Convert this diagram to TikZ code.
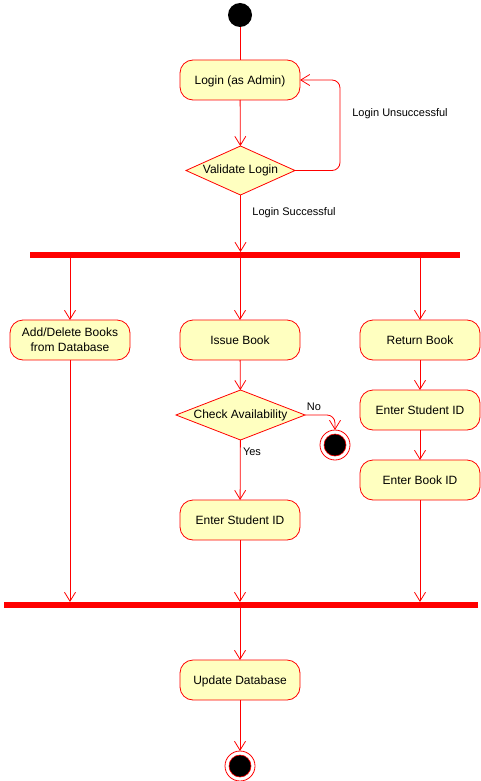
\documentclass[tikz,border=0pt]{standalone}
\usepackage{fontspec}
\setmainfont{Liberation Sans}
\usetikzlibrary{shapes.geometric,arrows.meta}
\definecolor{actfill}{HTML}{FFFFC0}

\begin{document}
\begin{tikzpicture}[x=1pt,y=-1pt,line width=0.8pt]
	\tikzstyle{every node}=[font=\fontsize{12}{15}\selectfont]
	\tikzstyle{action}=[draw=red, fill=actfill, rounded corners=13pt, minimum width=120pt, minimum height=40pt, align=center, text depth=0pt, inner sep=0pt, outer sep=0pt]
	\tikzstyle{decision}=[draw=red, fill=actfill, diamond, inner sep=0pt, outer sep=0pt]
	\tikzstyle{bar}=[fill=red, minimum height=6pt, inner sep=0pt, outer sep=0pt]
	\tikzstyle{start}=[circle, fill=black, minimum size=24pt, inner sep=0pt, outer sep=0pt]
	\tikzstyle{finish}=[circle, draw=red, fill=white, minimum size=30pt, inner sep=0pt, outer sep=0pt,
		path picture={\filldraw[draw=red, fill=black, line width=0.6pt] (path picture bounding box.center) circle (11pt);}]
	\tikzstyle{flow}=[draw=red, -{Straight Barb[length=9pt,width=11pt]}]
	\tikzstyle{guard}=[font=\fontsize{11}{13}\selectfont]
	\useasboundingbox (0,0) rectangle (481,781);

	% login part
	\node [start] (init) at (240,15) {};
	\node [action] (login) at (240,80) {Login (as Admin)};
	\node [decision, minimum width=109pt, minimum height=49pt, label=center:{Validate Login}] (validate) at (240.5,170.5) {};
	\coordinate (loop) at (340,80);
	\draw [red] (init) -- (login);
	\draw [flow] (login) -- (validate);
	\draw [flow, rounded corners=8pt] (validate.east) -| (loop) -- (login.east);
	\node [guard] (unsucc) at (400,114) {Login Unsuccessful};
	\node [guard] (succ) at (294,213) {Login Successful};

	% fork
	\node [bar, minimum width=430pt] (fork) at (245,255) {};
	\draw [flow] (validate) -- (fork.north -| validate);

	% three branches
	\node [action] (addbook) at (70,340) {Add/Delete Books\\from Database};
	\node [action] (issue) at (240,340) {Issue Book};
	\node [action] (return) at (420,340) {Return Book};
	\draw [flow] (fork.south -| addbook) -- (addbook);
	\draw [flow] (fork.south -| issue) -- (issue);
	\draw [flow] (fork.south -| return) -- (return);

	\node [decision, minimum width=129pt, minimum height=50pt, label=center:{Check Availability}] (check) at (240.5,415) {};
	\node [finish] (stopA) at (335,445) {};
	\node [action] (issueid) at (240,520) {Enter Student ID};
	\draw [flow] (issue) -- (check);
	\draw [flow, rounded corners=8pt] (check.east) -| (stopA);
	\draw [flow] (check) -- (issueid);
	\node [guard] (no) at (314,407) {No};
	\node [guard] (yes) at (252,452) {Yes};

	\node [action] (returnid) at (420,410) {Enter Student ID};
	\node [action] (bookid) at (420,480) {Enter Book ID};
	\draw [flow] (return) -- (returnid);
	\draw [flow] (returnid) -- (bookid);

	% join
	\node [bar, minimum width=474pt] (join) at (241,605) {};
	\draw [flow] (addbook) -- (addbook |- join.north);
	\draw [flow] (issueid) -- (issueid |- join.north);
	\draw [flow] (bookid) -- (bookid |- join.north);

	\node [action] (update) at (240,680) {Update Database};
	\node [finish] (stopB) at (240,766) {};
	\draw [flow] (join.south -| update) -- (update);
	\draw [flow] (update) -- (stopB);
\end{tikzpicture}
\end{document}
